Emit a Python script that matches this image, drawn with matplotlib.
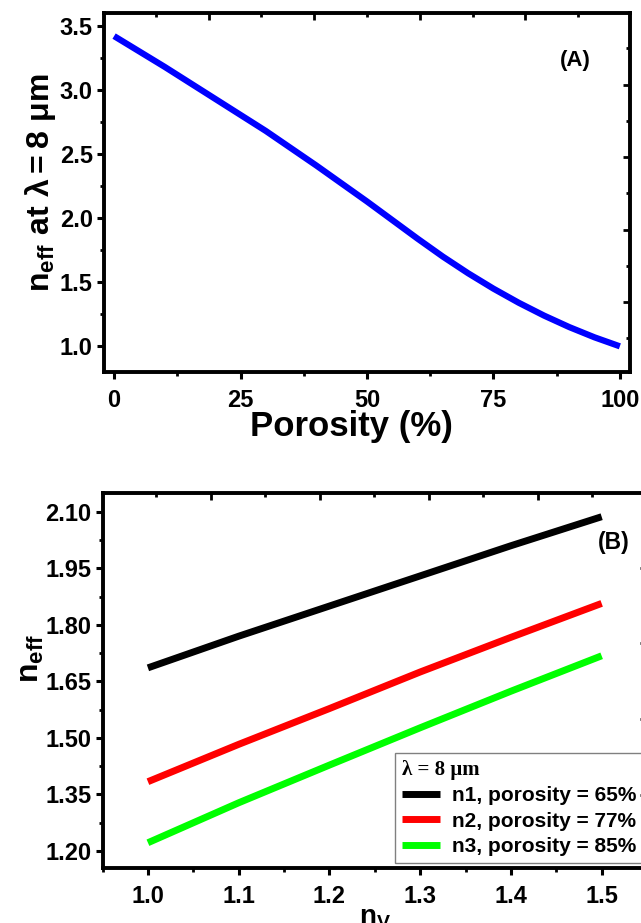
import matplotlib
matplotlib.use("Agg")
import matplotlib.pyplot as plt
from matplotlib.ticker import MultipleLocator, NullFormatter, FormatStrFormatter

plt.rcParams['font.family'] = ['Liberation Sans', 'DejaVu Sans']
plt.rcParams['font.weight'] = 'bold'
plt.rcParams['mathtext.fontset'] = 'custom'
plt.rcParams['mathtext.rm'] = 'Liberation Sans'
plt.rcParams['mathtext.bf'] = 'Liberation Sans:bold'
plt.rcParams['mathtext.it'] = 'Liberation Sans:italic'

# --- дані (A) ---
porosity = [0, 5, 10, 15, 20, 25, 30, 35, 40, 45, 50,
            55, 60, 65, 70, 75, 80, 85, 90, 95, 100]
neff_a = [3.42, 3.30, 3.18, 3.055, 2.93, 2.805, 2.68, 2.545, 2.41, 2.27, 2.13,
          1.985, 1.84, 1.70, 1.57, 1.45, 1.34, 1.24, 1.15, 1.07, 1.00]

# --- дані (B) ---
n_v = [1.0, 1.1, 1.2, 1.3, 1.4, 1.5]
n1 = [1.686, 1.770, 1.850, 1.930, 2.010, 2.087]
n2 = [1.384, 1.483, 1.578, 1.675, 1.767, 1.857]
n3 = [1.222, 1.328, 1.428, 1.527, 1.624, 1.718]
labels_b = ['n1, porosity = 65%', 'n2, porosity = 77%', 'n3, porosity = 85%']
colors_b = ['#000000', '#ff0000', '#00ff00']


def style_main(ax):
    for s in ax.spines.values():
        s.set_linewidth(2.8)
    ax.tick_params(which='major', direction='out', length=5, width=2.2,
                   labelsize=17, top=False, right=False)
    ax.tick_params(which='minor', direction='out', length=3, width=2,
                   top=False, right=False)
    ax.tick_params(axis='x', which='major', pad=7)
    ax.tick_params(axis='y', which='major', pad=3)


def style_twin(tw, axis):
    # верхня/права осі мають власну шкалу, лише засічки всередину
    tw.tick_params(axis=axis, which='major', direction='in', length=5, width=2)
    tw.tick_params(axis=axis, which='minor', direction='in', length=3, width=2)
    if axis == 'x':
        tw.xaxis.set_major_formatter(NullFormatter())
    else:
        tw.yaxis.set_major_formatter(NullFormatter())


fig = plt.figure(figsize=(6.41, 9.23), dpi=100)

# ---------- (A) ----------
ax1 = fig.add_axes([0.1622, 0.597, 0.8206, 0.3889])
ax1.plot(porosity, neff_a, color='#0000ff', lw=4.5, solid_capstyle='butt',
         solid_joinstyle='round')
ax1.set_xlim(-2, 102)
ax1.set_ylim(0.8, 3.6)
ax1.xaxis.set_major_locator(MultipleLocator(25))
ax1.xaxis.set_minor_locator(MultipleLocator(12.5))
ax1.yaxis.set_major_locator(MultipleLocator(0.5))
ax1.yaxis.set_minor_locator(MultipleLocator(0.25))
style_main(ax1)
ax1.set_xlabel('Porosity (%)', fontsize=25, fontweight='bold')
ax1.xaxis.set_label_coords(0.47, -0.105)
ax1.set_ylabel(r'$\mathbf{n}_{\mathbf{eff}}\ \mathbf{at}\ \mathrm{λ = 8\ μ}\mathbf{m}$',
               fontsize=23)
ax1.yaxis.set_label_coords(-0.088, 0.526)
ax1.text(0.897, 0.869, '(A)', transform=ax1.transAxes, fontsize=16,
         fontweight='bold', ha='center', va='center')

t1x = ax1.twiny()
t1x.set_xlim(0.01, 4.99)
t1x.xaxis.set_major_locator(MultipleLocator(1))
t1x.xaxis.set_minor_locator(MultipleLocator(0.5))
style_twin(t1x, 'x')
t1y = ax1.twinx()
t1y.set_ylim(0.035, 4.986)
t1y.yaxis.set_major_locator(MultipleLocator(1))
t1y.yaxis.set_minor_locator(MultipleLocator(0.5))
style_twin(t1y, 'y')

# ---------- (B) ----------
ax2 = fig.add_axes([0.160, 0.0596, 0.8494, 0.4063])
for vals, c, lab in zip([n1, n2, n3], colors_b, labels_b):
    ax2.plot(n_v, vals, color=c, lw=5, solid_capstyle='butt', label=lab)
ax2.set_xlim(0.95, 1.55)
ax2.set_ylim(1.155, 2.15)
ax2.xaxis.set_major_locator(MultipleLocator(0.1))
ax2.xaxis.set_minor_locator(MultipleLocator(0.05))
ax2.yaxis.set_major_locator(MultipleLocator(0.15))
ax2.yaxis.set_minor_locator(MultipleLocator(0.075))
ax2.yaxis.set_major_formatter(FormatStrFormatter('%.2f'))
style_main(ax2)
ax2.set_ylabel(r'$\mathbf{n}_{\mathbf{eff}}$', fontsize=23)
ax2.yaxis.set_label_coords(-0.104, 0.56)
ax2.set_xlabel(r'$\mathbf{n}_{\mathbf{V}}$', fontsize=20)
ax2.xaxis.set_label_coords(0.50, -0.1)
ax2.text(0.939, 0.867, '(B)', transform=ax2.transAxes, fontsize=16.5,
         fontweight='bold', ha='center', va='center')

leg = ax2.legend(loc='lower left', bbox_to_anchor=(0.537, 0.013),
                 title='λ = 8 μm', alignment='left',
                 title_fontproperties={'family': 'Liberation Serif', 'size': 15},
                 prop={'weight': 'bold', 'size': 15},
                 frameon=True, fancybox=False, framealpha=1, edgecolor='#808080',
                 handlelength=1.8, handletextpad=0.6, borderpad=0.35,
                 labelspacing=0.3, borderaxespad=0)
leg.get_frame().set_linewidth(1)
for h in leg.legend_handles:
    h.set_linewidth(5)

t2x = ax2.twiny()
t2x.set_xlim(0.01, 5.0)
t2x.xaxis.set_major_locator(MultipleLocator(1))
t2x.xaxis.set_minor_locator(MultipleLocator(0.5))
style_twin(t2x, 'x')
t2y = ax2.twinx()
t2y.set_ylim(-0.973, 3.993)
t2y.yaxis.set_major_locator(MultipleLocator(1))
t2y.yaxis.set_minor_locator(MultipleLocator(0.5))
style_twin(t2y, 'y')

fig.savefig('out.png', dpi=100)
